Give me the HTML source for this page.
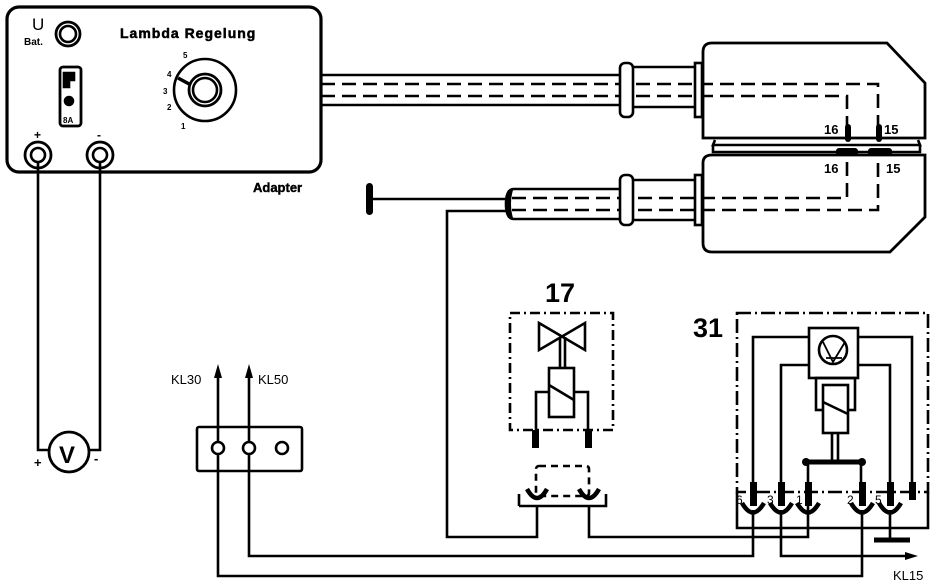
<!DOCTYPE html>
<html><head><style>
html,body{margin:0;padding:0;background:#fff;}
svg{display:block;}
text{font-family:"Liberation Sans",sans-serif;fill:#000;}
</style></head><body>
<svg width="944" height="584" viewBox="0 0 944 584" xmlns="http://www.w3.org/2000/svg">
<g fill="none" stroke="#000" stroke-width="2.6">
<rect x="7" y="7" width="314" height="165" rx="12" stroke-width="3.2"/>
<circle cx="68" cy="34" r="12" stroke-width="2.8"/><circle cx="68" cy="34" r="8"/>
<rect x="60" y="67" width="21" height="59" rx="3" stroke-width="2.8"/>
<path d="M64 73h10v7h-5v7h-5z" fill="#000"/>
<circle cx="69" cy="101" r="4" fill="#000"/>
<circle cx="205" cy="90" r="31"/>
<circle cx="205" cy="90" r="16" stroke-width="2.8"/><circle cx="205" cy="90" r="12"/>
<path d="M178 78L191 85" stroke-width="3.5"/>
<circle cx="38" cy="155" r="13" stroke-width="2.8"/><circle cx="38" cy="155" r="7"/>
<circle cx="100" cy="155" r="13" stroke-width="2.8"/><circle cx="100" cy="155" r="7"/>
<path d="M38 162V450H49M100 162V450H89"/>
<circle cx="69" cy="452" r="20" stroke-width="2.8"/>
<path d="M321 75H620M321 105H620"/>
<path d="M321 84H878V138" stroke-dasharray="14,7"/>
<path d="M321 96H847V137" stroke-dasharray="14,7"/>
<rect x="620" y="63" width="13" height="54" rx="5" fill="#fff"/>
<path d="M633 67H695M633 107H695"/>
<rect x="695" y="63" width="7" height="54" fill="#fff"/>
<path d="M712 43H887L925 83V138H703V52Q703 43 712 43Z" stroke-width="2.8"/>
<path d="M715 140L713 145H920L918 140M713 145V152H920V145"/>
<path d="M703 163Q703 155 712 155H925V217L890 252H712Q703 252 703 243Z" stroke-width="2.8"/>
<path d="M514 189H620M514 219H620M514 189Q506 189 506 204Q506 219 514 219"/>
<path d="M512 198H847V158M512 210H878V158" stroke-dasharray="14,7"/>
<rect x="620" y="175" width="13" height="50" rx="5" fill="#fff"/>
<path d="M633 180H695M633 220H695"/>
<rect x="695" y="175" width="7" height="50" fill="#fff"/>
<path d="M369 199H507M507 211H447V537H537V505"/>
<rect x="510" y="313" width="103" height="117" stroke-dasharray="10,4,2,4"/>
<path d="M539 323L585 350V323L539 350Z"/>
<path d="M560 337V368M565 337V368"/>
<rect x="549" y="368" width="25" height="49"/>
<path d="M549 385L574 400M549 392H536V440M574 392H588V440"/>
<rect x="536" y="466" width="53" height="30" rx="3" stroke-dasharray="7,5"/>
<path d="M519 506V494M519 506H606V494"/>
<path d="M589 505V537H808V505"/>
<rect x="197" y="427" width="105" height="44" rx="2"/>
<circle cx="218" cy="448" r="6"/><circle cx="249" cy="448" r="6"/><circle cx="282" cy="448" r="6"/>
<path d="M218 442V372M249 442V372"/>
<path d="M218 454V576H862V510M249 454V556H753V510"/>
<path d="M781 510V556H905"/>
<rect x="737" y="313" width="191" height="179" stroke-dasharray="14,4,2,4"/>
<path d="M737 492V528H928V492"/>
<path d="M753 490V337H809M858 337H912V490"/>
<path d="M781 490V365H809M858 365H890V490"/>
<rect x="809" y="328" width="49" height="50"/>
<circle cx="833" cy="350" r="14"/>
<path d="M823 342L833 362L845 342M826 358L842 358" stroke-width="1.8"/>
<rect x="816" y="378" width="39" height="32"/>
<rect x="823" y="385" width="25" height="48" fill="#fff"/>
<path d="M823 402L848 414"/>
<path d="M832 433V460M838 433V460"/>
<path d="M806 462H862" stroke-width="5"/>
<path d="M808 462V490M861 462V490"/>
<path d="M890 510V540"/>
<path d="M874 540H910" stroke-width="5"/>
</g>
<g fill="#000">
<rect x="366" y="183" width="7" height="32" rx="3.5"/>
<path d="M508 190Q504 204 508 218L513 218Q509 204 513 190Z"/>
<rect x="845" y="124" width="6" height="18" rx="3"/>
<rect x="876" y="124" width="6" height="18" rx="3"/>
<rect x="836" y="148" width="22" height="8" rx="3"/>
<rect x="868" y="148" width="24" height="8" rx="3"/>
<rect x="532" y="430" width="7" height="18"/>
<rect x="585" y="430" width="7" height="18"/>
<path d="M218 364L214 378H222Z M249 364L245 378H253Z"/>
<path d="M905 552L918 556L905 560Z"/>
<circle cx="806" cy="462" r="4"/><circle cx="862" cy="462" r="4"/>
<rect x="750" y="482" width="7" height="24"/>
<rect x="778" y="482" width="7" height="24"/>
<rect x="805" y="482" width="7" height="24"/>
<rect x="859" y="482" width="7" height="24"/>
<rect x="887" y="482" width="7" height="24"/>
<rect x="909" y="482" width="7" height="18"/>
</g>
<g fill="none" stroke="#000" stroke-width="4.5">
<path d="M527 489Q537 507 547 489M579 489Q589 507 599 489"/>
<path d="M742 503Q753 522 764 503M770 503Q781 522 792 503M797 503Q808 522 819 503M851 503Q862 522 873 503M879 503Q890 522 901 503"/>
</g>
<text x="32" y="30" font-size="17">U</text>
<text x="24" y="45" font-size="10" font-weight="bold">Bat.</text>
<text x="120" y="38" font-size="14" font-weight="bold" letter-spacing="1" stroke="#000" stroke-width="0.5">Lambda Regelung</text>
<text x="63" y="123" font-size="8" font-weight="bold">8A</text>
<text x="183" y="58" font-size="8" font-weight="bold">5</text>
<text x="167" y="77" font-size="8" font-weight="bold">4</text>
<text x="163" y="94" font-size="8" font-weight="bold">3</text>
<text x="167" y="110" font-size="8" font-weight="bold">2</text>
<text x="181" y="129" font-size="8" font-weight="bold">1</text>
<text x="34" y="139" font-size="12" font-weight="bold">+</text>
<text x="97" y="139" font-size="12" font-weight="bold">-</text>
<text x="253" y="192" font-size="13" font-weight="bold" stroke="#000" stroke-width="0.4">Adapter</text>
<text x="59" y="463" font-size="24" font-weight="bold">V</text>
<text x="34" y="467" font-size="13" font-weight="bold">+</text>
<text x="94" y="463" font-size="13" font-weight="bold">-</text>
<text x="824" y="134" font-size="13" font-weight="bold">16</text>
<text x="884" y="134" font-size="13" font-weight="bold">15</text>
<text x="824" y="173" font-size="13" font-weight="bold">16</text>
<text x="886" y="173" font-size="13" font-weight="bold">15</text>
<text x="545" y="302" font-size="27" font-weight="bold">17</text>
<text x="693" y="337" font-size="27" font-weight="bold">31</text>
<text x="171" y="384" font-size="13">KL30</text>
<text x="258" y="384" font-size="13">KL50</text>
<text x="893" y="580" font-size="13">KL15</text>
<text x="736" y="504" font-size="12">6</text>
<text x="767" y="504" font-size="12">3</text>
<text x="796" y="504" font-size="12">1</text>
<text x="847" y="504" font-size="12">2</text>
<text x="875" y="504" font-size="12">5</text>
</svg>
</body></html>
